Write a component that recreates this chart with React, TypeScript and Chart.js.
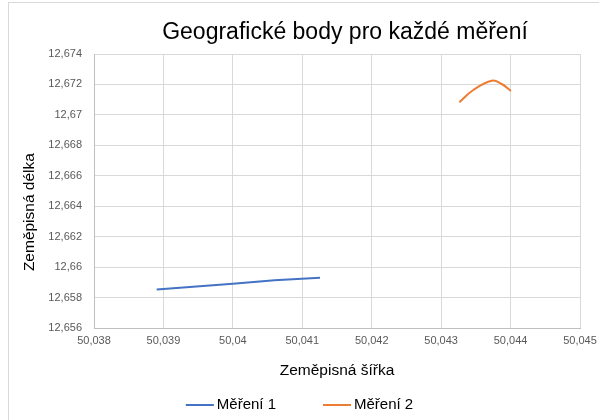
import React, { useEffect, useRef } from "react";
import { Chart, registerables } from "chart.js";

Chart.register(...registerables);

const chartTitle = "Geografické body pro každé měření";
const xAxisTitle = "Zeměpisná šířka";
const yAxisTitle = "Zeměpisná délka";

const series1Name = "Měření 1";
const series1X = [50.038903, 50.04, 50.0406, 50.041255];
const series1Y = [12.658543, 12.658911, 12.659154, 12.659305];

const series2Name = "Měření 2";
const series2X = [50.043262, 50.043463, 50.043728, 50.043872, 50.044005];
const series2Y = [12.670829, 12.671637, 12.672248, 12.672031, 12.671572];

const xTickValues = [50.038, 50.039, 50.04, 50.041, 50.042, 50.043, 50.044, 50.045];
const yTickValues = [12.656, 12.658, 12.66, 12.662, 12.664, 12.666, 12.668, 12.67, 12.672, 12.674];

const FONT = "'Liberation Sans', Arial, sans-serif";

const fmt = (v: number) => String(Number(v.toFixed(3))).replace(".", ",");

const extrasPlugin = {
  id: "extras",
  afterDraw(chart: any) {
    const { ctx, chartArea, width } = chart;
    // chart title
    ctx.save();
    ctx.font = `23px ${FONT}`;
    ctx.fillStyle = "#000000";
    ctx.textAlign = "center";
    ctx.textBaseline = "middle";
    ctx.fillText(chartTitle, (chartArea.left + chartArea.right) / 2 + 8, 33);
    ctx.restore();

    // y axis title
    ctx.save();
    ctx.font = `15.5px ${FONT}`;
    ctx.fillStyle = "#000000";
    ctx.textAlign = "center";
    ctx.textBaseline = "middle";
    ctx.translate(30, (chartArea.top + chartArea.bottom) / 2 + 21);
    ctx.rotate(-Math.PI / 2);
    ctx.fillText(yAxisTitle, 0, 0);
    ctx.restore();

    // legend
    ctx.save();
    ctx.font = `15px ${FONT}`;
    ctx.textBaseline = "middle";
    ctx.textAlign = "left";
    const boxW = 28;
    const gapText = 3;
    const gapItems = 47;
    const items = chart.data.datasets.map((d: any) => ({
      label: d.label,
      color: d.borderColor,
      w: boxW + gapText + ctx.measureText(d.label).width,
    }));
    const total = items.reduce((s: number, it: any) => s + it.w, 0) + gapItems * (items.length - 1);
    let x = (width - total) / 2;
    const y = 405;
    items.forEach((it: any) => {
      ctx.fillStyle = it.color;
      ctx.fillRect(x, y - 1, boxW, 2);
      ctx.fillStyle = "#000000";
      ctx.fillText(it.label, x + boxW + gapText, y);
      x += it.w + gapItems;
    });
    ctx.restore();
  },
};

export default function App() {
  const ref = useRef<HTMLCanvasElement>(null);

  useEffect(() => {
    if (!ref.current) return;
    const chart = new Chart(ref.current, {
      type: "scatter",
      data: {
        datasets: [
          {
            label: series1Name,
            data: series1X.map((x, i) => ({ x, y: series1Y[i] })),
            showLine: true,
            borderColor: "#4472C4",
            backgroundColor: "#4472C4",
            borderWidth: 2,
            pointRadius: 0,
            tension: 0,
          },
          {
            label: series2Name,
            data: series2X.map((x, i) => ({ x, y: series2Y[i] })),
            showLine: true,
            borderColor: "#ED7D31",
            backgroundColor: "#ED7D31",
            borderWidth: 2,
            pointRadius: 0,
            tension: 0.4,
          },
        ],
      },
      options: {
        responsive: false,
        animation: false,
        layout: { padding: { top: 54, right: 19, bottom: 40, left: 0 } },
        plugins: {
          legend: { display: false },
          tooltip: { enabled: false },
          title: { display: false },
        },
        scales: {
          x: {
            type: "linear",
            min: 50.038,
            max: 50.045,
            afterBuildTicks: (scale: any) => {
              scale.ticks = xTickValues.map((value) => ({ value }));
            },
            afterFit: (scale: any) => {
              scale.paddingRight = 0;
              scale.paddingLeft = 0;
            },
            ticks: {
              callback: (v: any) => fmt(Number(v)),
              color: "#595959",
              font: { family: FONT, size: 11 },
              padding: 6,
              maxRotation: 0,
            },
            grid: { color: "#d9d9d9", drawTicks: false },
            border: { color: "#bfbfbf" },
            title: {
              display: true,
              text: xAxisTitle,
              color: "#000000",
              font: { family: FONT, size: 15.5 },
              padding: { top: 8, bottom: 0 },
            },
          },
          y: {
            type: "linear",
            min: 12.656,
            max: 12.674,
            afterBuildTicks: (scale: any) => {
              scale.ticks = yTickValues.map((value) => ({ value }));
            },
            afterFit: (scale: any) => {
              scale.width = 94;
            },
            ticks: {
              callback: (v: any) => fmt(Number(v)),
              color: "#595959",
              font: { family: FONT, size: 11 },
              padding: 12,
            },
            grid: { color: "#d9d9d9", drawTicks: false },
            border: { color: "#bfbfbf" },
          },
        },
      },
      plugins: [extrasPlugin],
    });
    return () => chart.destroy();
  }, []);

  return (
    <div style={{ position: "absolute", left: 0, top: 0, width: 599, height: 420, overflow: "hidden", background: "#fff" }}>
      <div
        style={{
          position: "absolute",
          left: 8,
          top: 2,
          width: 700,
          height: 600,
          border: "1px solid #d9d9d9",
          boxSizing: "border-box",
        }}
      />
      <canvas ref={ref} width={599} height={420} style={{ position: "absolute", left: 0, top: 0 }} />
    </div>
  );
}
